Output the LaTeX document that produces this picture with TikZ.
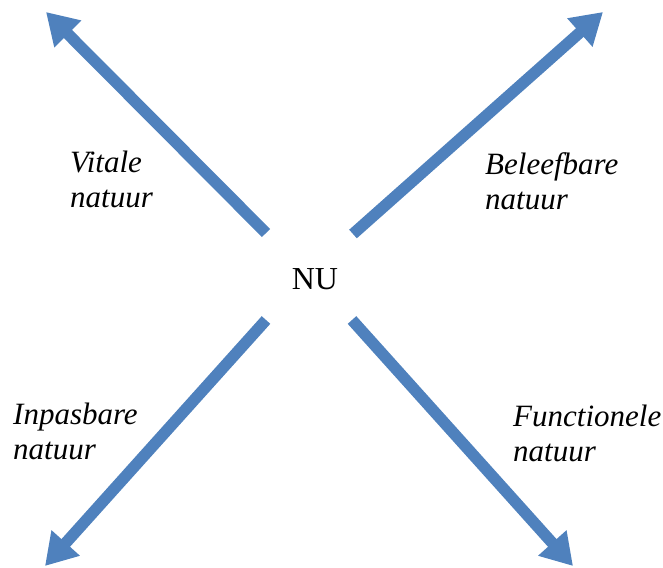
\documentclass[tikz,border=0pt]{standalone}
\usepackage{fontspec}
\setmainfont{Liberation Serif}
\usetikzlibrary{arrows.meta}
\definecolor{arrowblue}{RGB}{79,129,189}
\tikzset{
  bigarrow/.style={draw=arrowblue, line width=11.5pt, line cap=butt,
    -{Triangle[width=36pt,length=31pt]}},
  lbl/.style={font=\fontsize{31}{35}\selectfont\itshape, align=left,
    inner sep=0pt, anchor=north west},
  center/.style={font=\fontsize{32}{38}\selectfont, inner sep=0pt, anchor=base}
}
\begin{document}
\begin{tikzpicture}[x=1pt,y=-1pt]
\useasboundingbox (0,0) rectangle (663,567);
\node[center] (nu) at (315,289) {NU};
\coordinate (tl0) at (266,233);
\coordinate (tl1) at (46,12);
\coordinate (tr0) at (353,234);
\coordinate (tr1) at (603,12);
\coordinate (bl0) at (266,320);
\coordinate (bl1) at (45,566);
\coordinate (br0) at (352,320);
\coordinate (br1) at (573,566);
\draw[bigarrow] (tl0) -- (tl1);
\draw[bigarrow] (tr0) -- (tr1);
\draw[bigarrow] (bl0) -- (bl1);
\draw[bigarrow] (br0) -- (br1);
\node[lbl] (vit) at (70,151) {Vitale\\natuur};
\node[lbl] (bel) at (485,152) {Beleefbare\\natuur};
\node[lbl] (inp) at (13,403) {Inpasbare\\natuur};
\node[lbl] (fun) at (513,405) {Functionele\\natuur};
\end{tikzpicture}
\end{document}
